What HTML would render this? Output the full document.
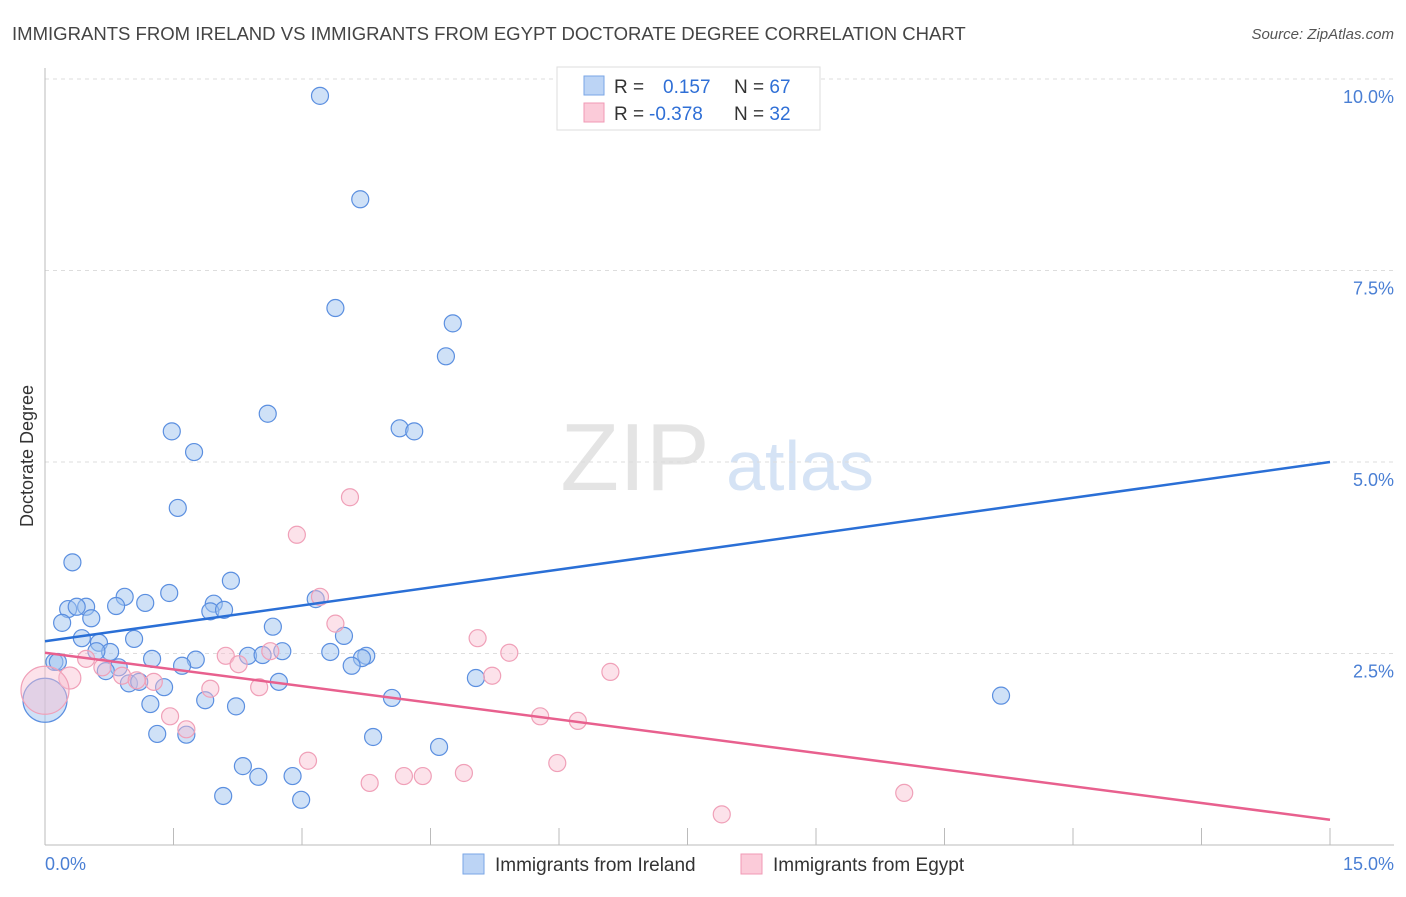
<!DOCTYPE html>
<html><head><meta charset="utf-8"><style>
body{margin:0;background:#fff;font-family:"Liberation Sans",sans-serif;}
svg text{font-family:"Liberation Sans",sans-serif;}
</style></head><body>
<svg id="chart" width="1406" height="892" viewBox="0 0 1406 892" xmlns="http://www.w3.org/2000/svg">
<text x="12" y="40" font-size="18.55" fill="#444">IMMIGRANTS FROM IRELAND VS IMMIGRANTS FROM EGYPT DOCTORATE DEGREE CORRELATION CHART</text>
<text x="1394" y="39" font-size="15" fill="#555" font-style="italic" text-anchor="end">Source: ZipAtlas.com</text>
<g>
<text x="635" y="490" font-size="96" fill="#e4e4e4" text-anchor="middle" font-family="Liberation Serif">ZIP</text>
<text x="800" y="490" font-size="70" fill="#d5e3f5" text-anchor="middle">atlas</text>
</g>
<g id="grid"></g>
<line x1="45" y1="68" x2="45" y2="845" stroke="#bbb"/>
<line x1="45" y1="845" x2="1394" y2="845" stroke="#bbb"/>
<g id="ticks"></g>
<text transform="translate(33,456) rotate(-90)" font-size="18" fill="#333" text-anchor="middle">Doctorate Degree</text>
<text x="45" y="870" font-size="18" fill="#4a7fd4">0.0%</text>
<text x="1394" y="870" font-size="18" fill="#4a7fd4" text-anchor="end">15.0%</text>
<g id="points"></g>
<g id="lines"></g>
<g>
<rect x="557" y="67" width="263" height="63" fill="#fff" stroke="#ddd"/>
<rect x="584" y="76" width="20" height="19" fill="#bcd4f5" stroke="#7aa6e6"/>
<rect x="584" y="103" width="20" height="19" fill="#fbcbd9" stroke="#f09ab5"/>
<text x="614" y="93" font-size="19" fill="#333">R = <tspan fill="#2f6fd6" x="663">0.157</tspan><tspan x="734" fill="#333">N = </tspan><tspan fill="#2f6fd6">67</tspan></text>
<text x="614" y="120" font-size="19" fill="#333">R = <tspan fill="#2f6fd6" x="649">-0.378</tspan><tspan x="734" fill="#333">N = </tspan><tspan fill="#2f6fd6">32</tspan></text>
</g>
<g>
<rect x="463" y="854" width="21" height="20" fill="#bcd4f5" stroke="#7aa6e6"/>
<text x="495" y="871" font-size="19" fill="#333">Immigrants from Ireland</text>
</g>
<g>
<rect x="741" y="854" width="21" height="20" fill="#fbcbd9" stroke="#f09ab5"/>
<text x="773" y="871" font-size="19" fill="#333">Immigrants from Egypt</text>
</g>
</svg>
<script>
const yTicks=[2.5,5,7.5,10];
const yTickLabels=["2.5%","5.0%","7.5%","10.0%"];
const xTicks=[0,1.5,3,4.5,6,7.5,9,10.5,12,13.5,15];
const irelandX=[3.21,3.68,3.39,4.76,4.68,2.60,4.14,4.31,1.48,1.74,1.55,0.32,2.17,1.45,0.93,1.17,0.83,0.27,0.48,0.37,1.97,1.93,2.09,3.16,0.54,0.20,2.66,0.43,1.04,0.63,3.49,0.76,0.60,2.37,2.54,2.77,3.33,3.75,3.70,0.11,0.15,1.25,1.76,1.60,3.58,0.86,0.71,2.73,5.03,0.98,1.10,1.39,4.05,1.87,2.23,1.23,11.16,1.31,1.65,3.83,4.60,2.31,2.49,2.89,2.08,2.99,0];
const irelandY=[9.78,8.43,7.01,6.81,6.38,5.63,5.44,5.40,5.40,5.13,4.40,3.69,3.45,3.29,3.24,3.16,3.12,3.08,3.11,3.11,3.15,3.05,3.07,3.21,2.96,2.90,2.85,2.70,2.69,2.64,2.73,2.52,2.53,2.47,2.48,2.53,2.52,2.47,2.44,2.39,2.39,2.43,2.42,2.34,2.34,2.32,2.27,2.13,2.18,2.11,2.13,2.06,1.92,1.89,1.81,1.84,1.95,1.45,1.44,1.41,1.28,1.03,0.89,0.90,0.64,0.59,1.89];
const irelandBig=[66];
const egyptX=[3.56,2.94,3.21,3.39,5.05,5.42,0.48,2.11,2.63,2.26,0.67,0.90,0.29,1.27,1.07,6.60,5.22,1.93,2.50,1.46,1.65,5.78,6.22,3.07,5.98,4.89,4.19,4.41,3.79,7.90,10.03,0];
const egyptY=[4.54,4.05,3.24,2.89,2.70,2.51,2.43,2.47,2.53,2.36,2.32,2.21,2.18,2.13,2.15,2.26,2.21,2.04,2.06,1.68,1.51,1.68,1.62,1.10,1.07,0.94,0.90,0.90,0.81,0.40,0.68,2.02];
const egyptBig=[12,31];
const irelandTrend=[2.66,5.00];
const egyptTrend=[2.51,0.33];
const NS="http://www.w3.org/2000/svg";
const X=v=>45+v/15*1285;
const Y=v=>845-v/10*766;
function mk(tag,attrs,parent){const e=document.createElementNS(NS,tag);for(const k in attrs)e.setAttribute(k,attrs[k]);parent.appendChild(e);return e;}
const grid=document.getElementById('grid');
yTicks.forEach((t,i)=>{
 const l=mk('line',{x1:45,x2:1394,y1:Y(t),y2:Y(t),stroke:'#ddd','stroke-dasharray':'4,4'},grid);
 
 
 const tx=mk('text',{x:1394,y:Y(t)+24,'font-size':18,fill:'#4a7fd4','text-anchor':'end'},grid);
 tx.textContent=yTickLabels[i];
 
 
});
const tk=document.getElementById('ticks');
xTicks.forEach(t=>{
 const l=mk('line',{x1:X(t),x2:X(t),y1:828,y2:845,stroke:'#bbb'},tk);
 
 
});
const pts=document.getElementById('points');
irelandX.forEach((x,i)=>{
 const big=irelandBig.includes(i);
 const c=mk('circle',{cx:X(x),cy:Y(irelandY[i]),r:big?22:8.5,fill:'rgba(160,195,240,0.5)',stroke:'#5b8fe0','stroke-width':1.2},pts);
 
 
});
egyptX.forEach((x,i)=>{
 const big=egyptBig.includes(i);
 const c=mk('circle',{cx:X(x),cy:Y(egyptY[i]),r:big?(i==31?24:11):8.5,fill:'rgba(248,190,208,0.45)',stroke:'#f0a0b8','stroke-width':1.2},pts);
 
 
});
const ln=document.getElementById('lines');
const b=mk('line',{x1:X(0),y1:Y(irelandTrend[0]),x2:X(15),y2:Y(irelandTrend[1]),stroke:'#2a6fd6','stroke-width':2.5},ln);


const p=mk('line',{x1:X(0),y1:Y(egyptTrend[0]),x2:X(15),y2:Y(egyptTrend[1]),stroke:'#e8608e','stroke-width':2.5},ln);


</script>
</body></html>
